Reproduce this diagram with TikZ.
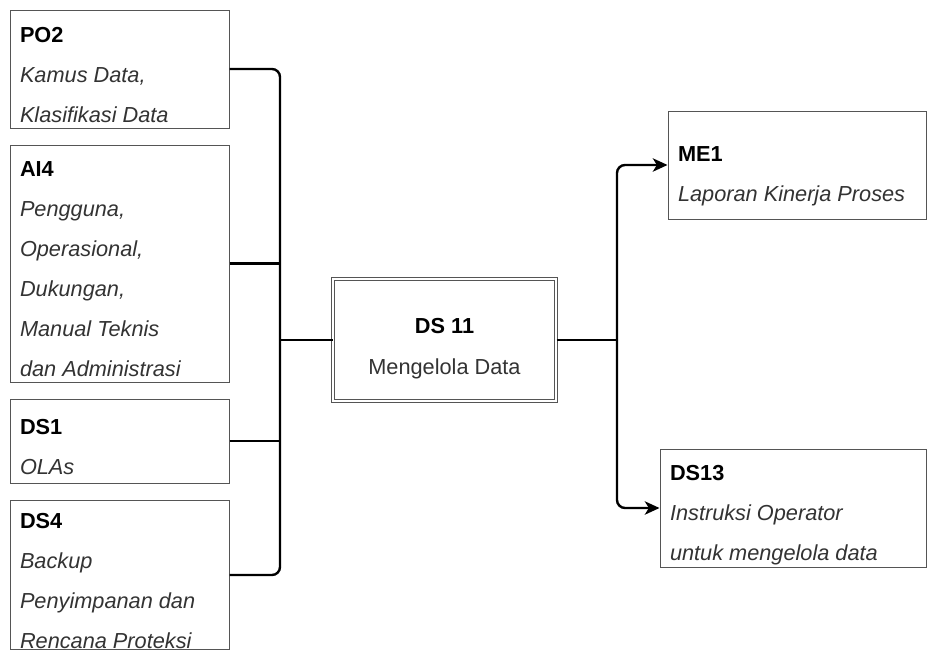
\documentclass[tikz,border=0pt]{standalone}
\usepackage{fontspec}
\setmainfont{Liberation Sans}
\usetikzlibrary{arrows.meta}
\definecolor{boxgray}{HTML}{555555}
\definecolor{txtgray}{HTML}{333333}
\tikzset{
  box/.style={draw=boxgray, line width=0.75pt, fill=white, align=flush left, inner xsep=7.5pt, inner ysep=0pt,
    font=\fontsize{16.3}{30}\selectfont, text=txtgray},
  pad/.style={execute at begin node={\rule{0pt}{#1}}},
  link/.style={line width=1.8pt, rounded corners=6pt},
  tip/.style={-{Stealth[length=11pt,width=10pt,inset=3pt]}},
}
\begin{document}
\begin{tikzpicture}[x=0.75pt,y=-0.75pt]
\useasboundingbox (0,0) rectangle (928,650);

\node[box, pad=20.5pt, text width=149.25pt, minimum height=88.5pt] (po2) at (119.5,69)
  {\textbf{\color{black}PO2}\\ \textit{Kamus Data,}\\ \textit{Klasifikasi Data}};
\node[box, pad=19.5pt, text width=149.25pt, minimum height=177.75pt] (ai4) at (119.5,263.5)
  {\textbf{\color{black}AI4}\\ \textit{Pengguna,}\\ \textit{Operasional,}\\ \textit{Dukungan,}\\ \textit{Manual Teknis}\\ \textit{dan Administrasi}};
\node[box, pad=20.9pt, text width=149.25pt, minimum height=63pt] (ds1) at (119.5,441)
  {\textbf{\color{black}DS1}\\ \textit{OLAs}};
\node[box, pad=20.9pt, text width=149.25pt, minimum height=111pt] (ds4) at (119.5,575)
  {\textbf{\color{black}DS4}\\ \textit{Backup}\\ \textit{Penyimpanan dan}\\ \textit{Rencana Proteksi}};

%proses
\node[box, pad=24.5pt, double, double distance=1.5pt, align=flush center, text width=152.25pt, minimum height=91.5pt,
  font=\fontsize{16.3}{31}\selectfont] (ds11) at (444.5,340)
  {\textbf{\color{black}DS 11}\\ Mengelola Data};

\node[box, pad=28.4pt, text width=178.5pt, minimum height=81pt] (me1) at (797,165)
  {\textbf{\color{black}ME1}\\ \textit{Laporan Kinerja Proses}};
\node[box, pad=22.4pt, text width=184.5pt, minimum height=88.5pt] (ds13) at (793,508)
  {\textbf{\color{black}DS13}\\ \textit{Instruksi Operator}\\ \textit{untuk mengelola data}};

\coordinate (jl) at (280,340);
\coordinate (jr) at (617,340);

\draw[link] (po2.east) -| (jl) |- (ds4.east);
\foreach \n in {ai4,ds1}{
\draw[link] (\n.east) -- (\n.east -| jl);
}
\draw[link] (jl) -- (ds11.west);
\draw[link] (ds11.east) -- (jr);
\draw[link,tip] (jr) |- (me1.west);
\draw[link,tip] (jr) |- (ds13.west);
\end{tikzpicture}
\end{document}
